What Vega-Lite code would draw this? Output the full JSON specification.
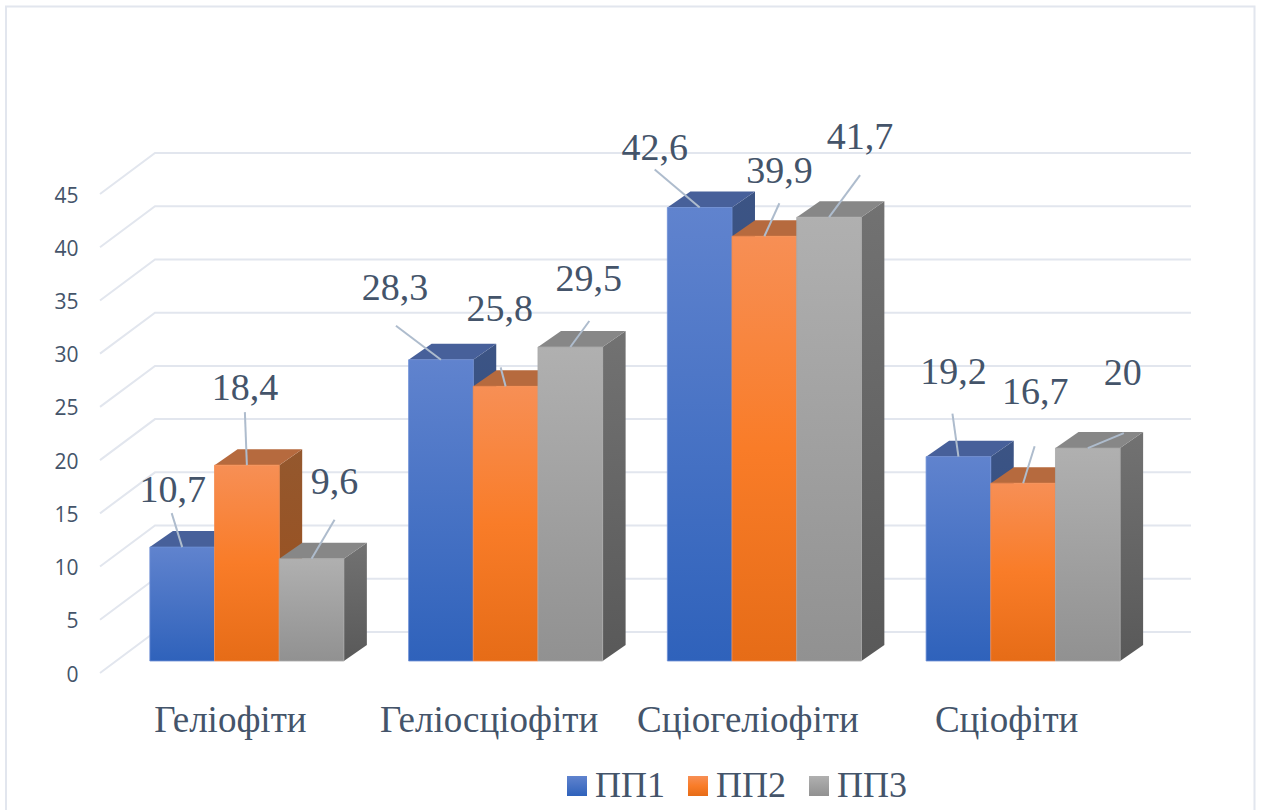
{
  "$schema": "https://vega.github.io/schema/vega-lite/v6.json",
  "width": 1036,
  "height": 479,
  "autosize": "none",
  "padding": {"left": 155, "top": 153, "right": 70, "bottom": 178},
  "background": "#ffffff",
  "config": {"view": {"stroke": null}},
  "params": [
    {"name": "frontFills", "value": {
      "ПП1": {"gradient": "linear", "x1": 0, "y1": 0, "x2": 0, "y2": 1, "stops": [{"offset": 0, "color": "#6083ce"}, {"offset": 1, "color": "#2f62bb"}]},
      "ПП2": {"gradient": "linear", "x1": 0, "y1": 0, "x2": 0, "y2": 1, "stops": [{"offset": 0, "color": "#f78f55"}, {"offset": 0.5, "color": "#f97c28"}, {"offset": 1, "color": "#e66c17"}]},
      "ПП3": {"gradient": "linear", "x1": 0, "y1": 0, "x2": 0, "y2": 1, "stops": [{"offset": 0, "color": "#b0b0b0"}, {"offset": 1, "color": "#919191"}]}
    }},
    {"name": "sideFills", "value": {
      "ПП1": {"gradient": "linear", "x1": 0, "y1": 0, "x2": 0, "y2": 1, "stops": [{"offset": 0, "color": "#3c5484"}, {"offset": 1, "color": "#2a4a85"}]},
      "ПП2": {"gradient": "linear", "x1": 0, "y1": 0, "x2": 0, "y2": 1, "stops": [{"offset": 0, "color": "#94582e"}, {"offset": 1, "color": "#9c4f1c"}]},
      "ПП3": {"gradient": "linear", "x1": 0, "y1": 0, "x2": 0, "y2": 1, "stops": [{"offset": 0, "color": "#727272"}, {"offset": 1, "color": "#595959"}]}
    }},
    {"name": "topFills", "value": {"ПП1": "#47609a", "ПП2": "#b66a3e", "ПП3": "#878787"}}
  ],
  "datasets": {
    "bars": [
      {"group": "Геліофіти", "series": "ПП1", "value": 10.7},
      {"group": "Геліофіти", "series": "ПП2", "value": 18.4},
      {"group": "Геліофіти", "series": "ПП3", "value": 9.6},
      {"group": "Геліосціофіти", "series": "ПП1", "value": 28.3},
      {"group": "Геліосціофіти", "series": "ПП2", "value": 25.8},
      {"group": "Геліосціофіти", "series": "ПП3", "value": 29.5},
      {"group": "Сціогеліофіти", "series": "ПП1", "value": 42.6},
      {"group": "Сціогеліофіти", "series": "ПП2", "value": 39.9},
      {"group": "Сціогеліофіти", "series": "ПП3", "value": 41.7},
      {"group": "Сціофіти", "series": "ПП1", "value": 19.2},
      {"group": "Сціофіти", "series": "ПП2", "value": 16.7},
      {"group": "Сціофіти", "series": "ПП3", "value": 20}
    ],
    "ticks": [
      {"tick": 0}, {"tick": 5}, {"tick": 10}, {"tick": 15}, {"tick": 20},
      {"tick": 25}, {"tick": 30}, {"tick": 35}, {"tick": 40}, {"tick": 45}
    ],
    "frame": [{"name": "frame"}]
  },
  "layer": [
    {
      "data": {"name": "frame"},
      "mark": {"type": "point", "filled": false, "opacity": 1, "size": 4, "stroke": "#e2e6ee", "strokeWidth": 2, "shape": "M-149,657L-149,-146.5L1099.5,-146.5L1099.5,657"},
      "encoding": {"x": {"value": 0}, "y": {"value": 0}}
    },
    {
      "data": {"name": "ticks"},
      "mark": {"type": "point", "filled": false, "opacity": 1, "size": 4, "stroke": "#e2e6ee", "strokeWidth": 2, "shape": "M-55,41L0,0L1036,0"},
      "encoding": {
        "x": {"value": 0},
        "y": {"field": "tick", "type": "quantitative", "scale": {"domain": [0, 45], "nice": false},
          "axis": {"values": [0, 5, 10, 15, 20, 25, 30, 35, 40, 45], "title": null, "domain": false, "ticks": false,
            "grid": false,
            "labelOffset": 43, "labelPadding": 77, "labelFont": "Open Sans", "labelFontSize": 21, "labelColor": "#44546a"}}
      }
    },
    {
      "data": {"name": "bars"},
      "transform": [
        {"calculate": "datum.group + '|' + datum.series", "as": "key"},
        {"calculate": "{'Геліофіти|ПП1':[-10.5,-34,-9.5,-56],'Геліофіти|ПП2':[-2,-53,-2,-76],'Геліофіти|ПП3':[23,-39,23,-76],'Геліосціофіти|ПП1':[-45,-34,-46,-71],'Геліосціофіти|ПП2':[-5,-19,-6,-76],'Геліосціофіти|ПП3':[19,-26,18.5,-67],'Сціогеліофіти|ПП1':[-45,-38,-45,-59],'Сціогеліофіти|ПП2':[15,-33,15,-64],'Сціогеліофіти|ПП3':[31,-42,31,-79],'Сціофіти|ПП1':[-6,-43,-5,-84],'Сціофіти|ПП2':[11.5,-37,12,-90],'Сціофіти|ПП3':[36,-15,35,-74]}[datum.key]", "as": "callout"},
        {"calculate": "'M32.3,0L55.3,-16L55.3,' + (datum.value * 479 / 45 - 16) + 'L32.3,' + (datum.value * 479 / 45) + 'Z'", "as": "sidePath"},
        {"calculate": "'M0,0L' + datum.callout[0] + ',' + datum.callout[1]", "as": "leaderPath"},
        {"calculate": "replace(toString(datum.value), '.', ',')", "as": "valueText"}
      ],
      "encoding": {
        "x": {"field": "group", "type": "nominal", "sort": null,
          "scale": {"paddingInner": 0.25, "paddingOuter": 0.125, "range": [-37.5, 997.5]},
          "axis": {"title": null, "domain": false, "ticks": false, "labelAngle": 0, "labelOffset": -16.5, "labelPadding": 70,
            "labelFont": "Liberation Serif", "labelFontSize": 37, "labelColor": "#44546a", "labelLimit": 400, "labelOverlap": false, "labelBound": false, "labelFlush": false}},
        "xOffset": {"field": "series", "type": "nominal", "sort": null, "scale": {"paddingInner": 0, "paddingOuter": 0}},
        "y": {"field": "value", "type": "quantitative", "title": null}
      },
      "layer": [
        {
          "mark": {"type": "point", "filled": true, "opacity": 1, "size": 4, "yOffset": 29, "fill": {"expr": "sideFills[datum.series]"}},
          "encoding": {
            "shape": {"field": "sidePath", "type": "nominal", "scale": null, "legend": null}
          }
        },
        {
          "mark": {"type": "point", "filled": true, "opacity": 1, "size": 4, "yOffset": 29, "shape": "M-32.3,0L32.3,0L55.3,-16L-9.3,-16Z", "fill": {"expr": "topFills[datum.series]"}}
        },
        {
          "mark": {"type": "bar", "yOffset": 29, "fill": {"expr": "frontFills[datum.series]"}, "strokeWidth": 0.8},
          "encoding": {
            "stroke": {"field": "series", "type": "nominal", "sort": null, "scale": {"domain": ["ПП1", "ПП2", "ПП3"], "range": ["#6f8fd6", "#f58b4c", "#a8a8a8"]},
              "legend": {"title": null, "orient": "none", "legendX": 404, "legendY": 615, "padding": 0, "direction": "horizontal", "symbolType": "square", "symbolSize": 400,
                "symbolStrokeWidth": 0, "labelFont": "Liberation Serif", "labelFontSize": 36, "labelColor": "#44546a", "labelOffset": 0, "columnPadding": 15,
                "encoding": {"symbols": {"fill": {"value": {"expr": "frontFills[datum.value]"}}, "fillOpacity": {"value": 1}}}}}
          }
        },
        {
          "mark": {"type": "point", "filled": false, "opacity": 1, "size": 4, "yOffset": 29, "stroke": "#aebccd", "strokeWidth": 2},
          "encoding": {"shape": {"field": "leaderPath", "type": "nominal", "scale": null, "legend": null}}
        },
        {
          "mark": {"type": "text", "yOffset": 29, "font": "Liberation Serif", "fontSize": 38, "color": "#44546a", "align": "center", "baseline": "middle",
            "dx": {"expr": "datum.callout[2]"}, "dy": {"expr": "datum.callout[3]"}},
          "encoding": {"text": {"field": "valueText", "type": "nominal"}}
        }
      ]
    }
  ]
}
